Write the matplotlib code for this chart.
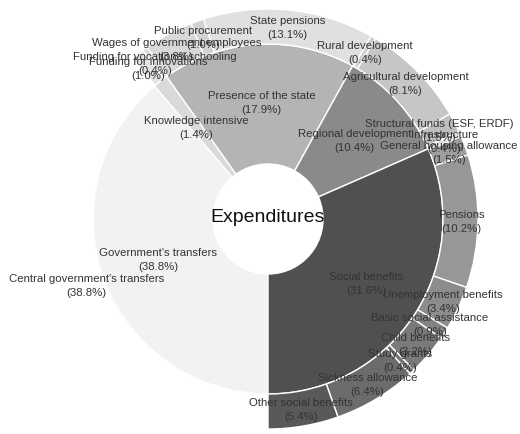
import matplotlib
matplotlib.use("Agg")
import numpy as np
import matplotlib.pyplot as plt

plt.rcParams['font.family'] = ['Liberation Sans', 'DejaVu Sans']

# inner ring
groups = ["Government's transfers", "Knowledge intensive", "Presence of the state",
          "Regional development", "Social benefits"]
group_vals = [38.8, 1.4, 17.9, 10.4, 31.6]
group_cols = ['#f2f2f2', '#dadada', '#b4b4b4', '#8a8a8a', '#505050']

# outer ring
items = ["Central government's transfers",
         "Funding for innovations", "Funding for vocational schooling",
         "Wages of government employees", "Public procurement", "State pensions",
         "Rural development", "Agricultural development", "Structural funds (ESF, ERDF)", "Infrastructure",
         "General housing allowance", "Pensions", "Unemployment benefits", "Basic social assistance",
         "Child benefits", "Study grants", "Sickness allowance", "Other social benefits"]
item_vals = [38.8,
             1.0, 0.4,
             3.8, 1.0, 13.1,
             0.4, 8.1, 1.5, 0.4,
             1.5, 10.2, 3.4, 0.9, 3.2, 0.4, 6.4, 5.4]
item_cols = ['#ffffff',
             '#e4e4e4', '#dcdcdc',
             '#d8d8d8', '#d2d2d2', '#e0e0e0',
             '#d0d0d0', '#c6c6c6', '#bebebe', '#dedede',
             '#9e9e9e', '#979797', '#8c8c8c', '#828282', '#7a7a7a', '#767676', '#6c6c6c', '#595959']

fig = plt.figure(figsize=(5.2, 4.35), dpi=100)
ax = fig.add_axes([0, 0, 1, 1])
ax.set_xlim(0, 520)
ax.set_ylim(0, 435)
ax.set_aspect('equal')
ax.axis('off')

cx, cy = 268, 215
r_hole, r_in, r_out = 55, 175, 210

w_in, _ = ax.pie(group_vals, radius=r_in, center=(cx, cy), startangle=-90, counterclock=False,
                 colors=group_cols, wedgeprops=dict(width=r_in - r_hole, edgecolor='white', linewidth=1))
w_out, _ = ax.pie(item_vals, radius=r_out, center=(cx, cy), startangle=-90, counterclock=False,
                  colors=item_cols, wedgeprops=dict(width=r_out - r_in, edgecolor='white', linewidth=1))
ax.set_xlim(0, 520)
ax.set_ylim(0, 435)


def put_labels(wedges, names, vals, r):
    for w, n, v in zip(wedges, names, vals):
        a = np.deg2rad((w.theta1 + w.theta2) / 2)
        ax.text(cx + r * np.cos(a), cy + r * np.sin(a), f"{n}\n({v:.1f}%)",
                ha='center', va='center', fontsize=8.2, color='#333333', linespacing=1.5)


put_labels(w_in, groups, group_vals, 117)
put_labels(w_out, items, item_vals, 193)

ax.text(cx, cy + 2, "Expenditures", ha='center', va='center', fontsize=14, color='#111111')

fig.savefig('out.png', dpi=100)
